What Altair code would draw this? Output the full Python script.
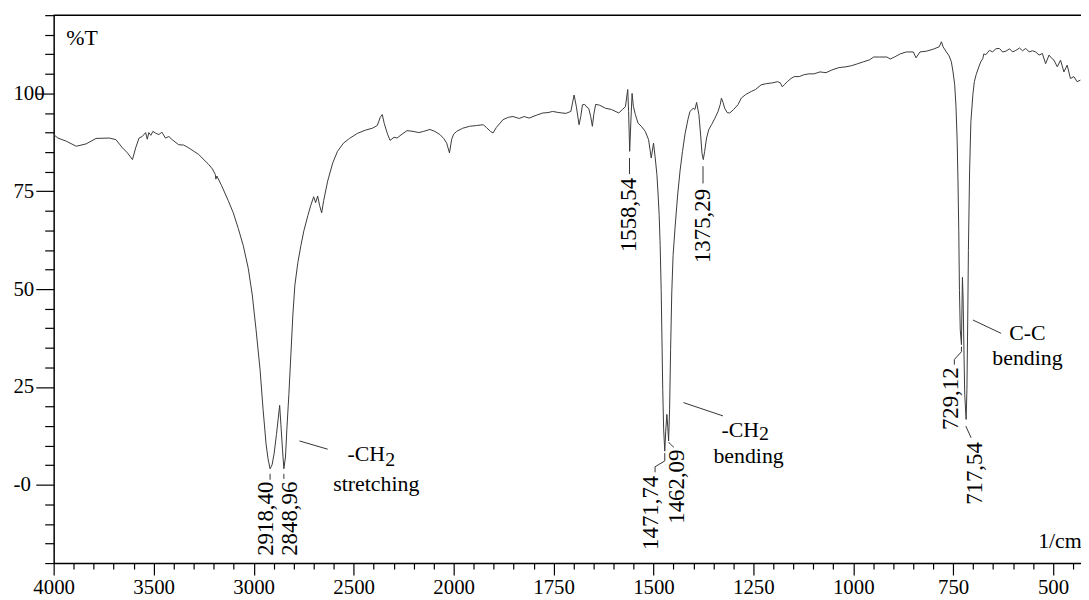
import altair as alt
import pandas as pd

# ---- spectrum (wavenumber 1/cm, %T) ----
WN = [4000, 3979, 3937, 3887, 3838, 3788, 3722, 3689, 3656, 3631, 3606, 3590, 3573, 3557,
      3540, 3532, 3524, 3514, 3504, 3489, 3474, 3459, 3441, 3424, 3408, 3375, 3350, 3325,
      3275, 3226, 3206, 3192, 3189, 3184, 3160, 3127, 3102, 3077, 3052, 3027, 3007, 2988,
      2968, 2953, 2938, 2928, 2918, 2908, 2898, 2886, 2870, 2864, 2856, 2849, 2841, 2834,
      2824, 2814, 2804, 2794, 2779, 2764, 2749, 2729, 2715, 2700, 2690, 2680, 2670, 2660,
      2650, 2630, 2605, 2581, 2551, 2521, 2481, 2442, 2407, 2382, 2367, 2357, 2347, 2332,
      2318, 2298, 2283, 2258, 2233, 2203, 2174, 2150, 2119, 2094, 2069, 2050, 2035, 2021,
      2010, 2000,
      1992.5, 1977.6, 1960.2, 1942.9, 1926.2, 1918.0, 1908.1, 1901.4, 1893.2, 1876.5,
      1863.3, 1851.7, 1836.0, 1823.6, 1811.2, 1793.8, 1777.1, 1763.9, 1752.3, 1736.6,
      1719.2, 1706.8, 1698.6, 1693.1, 1686.2, 1681.9, 1677.7, 1672.0, 1667.0, 1662.1,
      1657.1, 1652.9, 1648.9, 1644.7, 1634.8, 1619.8, 1605.0, 1586.8, 1577.6, 1570.2,
      1564.4, 1562.2, 1559.5, 1556.5, 1553.5, 1550.3, 1545.3, 1538.6, 1530.4, 1520.5,
      1512.3, 1505.6, 1499.8, 1495.6, 1491.4, 1488.2, 1485.7, 1483.2, 1480.7, 1478.7,
      1476.8, 1474.5, 1471.7, 1469.3, 1466.5, 1464.1, 1462.1, 1459.6, 1457.1, 1454.2,
      1450.9, 1445.9, 1439.7, 1433.5, 1427.3, 1421.1, 1413.6, 1408.7, 1400.5, 1396.2,
      1392.0, 1388.8, 1386.3, 1381.3, 1378.6, 1375.3, 1371.9, 1367.1, 1361.4, 1354.7,
      1346.5, 1338.3, 1332.8, 1329.9, 1325.9, 1321.7, 1315.5, 1309.2, 1299.3, 1288.6,
      1280.2, 1269.5, 1255.3, 1244.7, 1230.5, 1217.3, 1202.4, 1189.3, 1182.5, 1177.6,
      1172.6, 1165.2, 1156.0, 1147.8, 1135.3, 1122.9, 1110.5, 1098.1, 1083.2, 1068.2,
      1053.3, 1035.9, 1018.5, 1003.6, 988.7, 973.8, 958.9, 948.9, 934.0, 915.9,
      907.5, 896.8, 882.6, 867.0, 849.6, 842.9, 832.9, 816.5, 799.9, 785.0,
      779.3, 775.1, 766.9, 760.2, 754.5, 750.3, 746.1, 742.9, 739.9, 737.9,
      735.9, 734.2, 732.2, 729.2, 728.0, 726.7, 725.0, 723.0, 721.0, 717.5,
      715.5, 713.5, 711.8, 708.8, 705.6, 700.6, 696.9, 692.4, 685.7, 680.7,
      675.8, 673.3, 668.3, 659.2, 651.0, 643.5, 634.3, 626.1, 617.9, 608.7,
      601.2, 593.0, 583.8, 576.4, 568.2, 559.7, 551.5, 543.3, 534.9, 526.7,
      518.5, 510.0, 504.3, 497.6, 489.4, 481.2, 472.8, 464.6, 456.4, 447.9,
      439.7, 431.5]
TR = [89.5, 88.6, 87.8, 86.5, 87.1, 88.5, 88.6, 88.2, 86.1, 84.8, 83.1, 86.1, 88.6, 89.0,
      90.0, 88.3, 90.0, 89.3, 90.3, 89.8, 89.5, 90.1, 88.6, 89.0, 88.2, 86.9, 86.8, 86.1,
      84.4, 81.9, 80.7, 79.3, 78.1, 78.9, 76.4, 72.6, 69.5, 65.5, 61.1, 55.3, 48.5, 39.6,
      29.4, 19.3, 10.4, 6.6, 4.1, 5.1, 7.9, 12.9, 20.3, 15.5, 9.1, 4.1, 7.1, 14.2,
      23.1, 33.2, 43.4, 51.0, 56.8, 61.1, 64.9, 68.8, 71.3, 73.6, 72.1, 73.8, 71.3, 69.5,
      72.6, 77.6, 82.2, 85.2, 87.3, 88.5, 89.8, 90.6, 91.1, 91.8, 93.9, 94.6, 92.3, 89.8,
      88.0, 88.8, 88.6, 89.6, 90.5, 90.3, 90.0, 90.3, 90.8, 90.3, 89.5, 88.5, 87.3, 84.8,
      88.3, 89.6,
      90.3, 91.1, 91.6, 91.8, 92.0, 91.3, 90.3, 89.9, 91.3, 93.3,
      93.9, 94.1, 93.6, 94.1, 93.7, 94.4, 95.0, 95.1, 95.4, 95.1,
      94.9, 95.4, 99.6, 96.7, 92.0, 94.1, 97.1, 97.2, 96.5, 96.2,
      94.1, 91.6, 94.9, 97.2, 97.0, 96.2, 95.9, 95.0, 95.9, 96.6,
      101.0, 95.4, 85.2, 92.9, 100.0, 96.7, 94.6, 92.4, 91.6, 90.3,
      88.2, 83.5, 87.3, 83.5, 79.3, 73.8, 68.8, 61.1, 49.7, 37.0,
      24.4, 14.2, 8.6, 13.7, 18.0, 14.7, 11.2, 19.3, 34.5, 49.0,
      58.6, 65.8, 73.8, 80.2, 85.2, 89.6, 93.4, 95.4, 96.2, 95.9,
      97.7, 95.9, 94.6, 88.6, 84.7, 83.1, 85.2, 88.6, 90.8, 92.0,
      93.6, 95.4, 97.2, 98.8, 97.7, 96.2, 95.1, 95.0, 95.9, 97.1,
      98.8, 99.7, 100.5, 101.0, 102.2, 102.5, 102.7, 103.0, 102.7, 101.7,
      102.2, 103.0, 103.8, 104.3, 104.3, 104.8, 105.0, 105.0, 105.5, 105.3,
      106.0, 106.6, 106.8, 107.1, 107.6, 108.1, 108.6, 109.3, 109.3, 109.3,
      108.8, 109.3, 110.1, 110.6, 110.6, 109.1, 110.6, 110.8, 111.3, 111.9,
      113.2, 111.9, 110.6, 109.6, 108.1, 105.5, 102.2, 96.7, 87.8, 77.6,
      64.9, 49.7, 39.6, 35.8, 44.7, 53.0, 47.2, 34.5, 23.1, 16.7,
      24.4, 42.1, 59.9, 80.2, 92.8, 99.7, 103.0, 104.8, 106.8, 108.1,
      108.9, 110.1, 109.9, 111.0, 110.6, 111.4, 111.5, 110.6, 110.8, 111.4,
      110.6, 111.0, 111.6, 110.9, 111.5, 110.6, 110.9, 110.6, 109.8, 110.2,
      107.6, 109.8, 109.1, 108.5, 106.8, 108.5, 105.5, 107.2, 103.8, 104.3,
      103.0, 103.4]

# ---- peak labels ----
PEAK_TEXT = ["2918,40", "2848,96", "1558,54", "1375,29", "1471,74", "1462,09", "729,12", "717,54"]
PEAK_WN = [2940, 2816, 1560, 1376, 1507, 1442, 756, 696]
PEAK_TOP = [0.8, 0.8, 78.4, 75.6, 2.3, 9.0, 30.0, 10.9]

# ---- leader lines (segment id, wavenumber, %T) ----
LEAD_ID = [0, 0, 1, 1, 2, 2, 3, 3, 4, 4, 4, 4, 5, 5, 5, 6, 6, 6, 6, 7, 7, 8, 8, 9, 9, 10, 10]
LEAD_WN = [2918, 2918, 2849, 2849, 1560, 1560, 1376, 1376,
           1471.7, 1471.7, 1496, 1496, 1462.1, 1458, 1449,
           729.2, 729.2, 747, 747, 718.3, 705, 2771, 2630, 1425, 1326, 700.5, 630]
LEAD_T = [2.8, 1.3, 2.8, 1.5, 83.5, 79.4, 81.4, 77.0,
          8.1, 6.1, 4.6, 3.2, 10.9, 10.4, 9.6,
          35.3, 34.0, 32.0, 30.7, 15.0, 12.0, 11.2, 9.1, 21.0, 17.6, 42.1, 38.7]

# ---- other annotations ----
LEFT_TEXT = ["%T", "-CH", "-CH"]
LEFT_WN = [3937, 2531, 1330]
LEFT_T = [114.2, 7.8, 13.9]
SUB_TEXT = ["2", "2"]
SUB_WN = [2342, 1236]
SUB_T = [6.2, 12.9]
CENTER_TEXT = ["stretching", "bending", "C-C", "bending"]
CENTER_WN = [2387, 1262, 564, 564]
CENTER_T = [0.3, 7.4, 38.7, 32.3]
UNIT_TEXT = ["1/cm"]
UNIT_WN = [428]
UNIT_T = [-14.5]

X_TICKS = list(range(4000, 1999, -100)) + list(range(1950, 449, -50))
Y_TICKS = list(range(-20, 121, 5))

FONT = "Liberation Serif"
W, H = 1035, 552

xscale = alt.Scale(domain=[4000, 2000, 430], range=[0, 403, W], nice=False)
yscale = alt.Scale(domain=[-20, 120], nice=False, zero=False)

x_major = "(datum.value >= 2000 ? datum.value % 500 === 0 : datum.value % 250 === 0)"
y_major = "(datum.value % 25 === 0)"

xaxis = alt.Axis(
    values=X_TICKS, tickCount=1000, title=None, grid=False,
    labelExpr=f"{x_major} ? datum.value + '' : ''",
    tickSize={"condition": {"test": x_major, "value": 12}, "value": 6},
    labelFont=FONT, labelFontSize=21, labelColor="black", labelPadding=2,
    labelOverlap=False, labelFlush=False, labelBound=False,
    domainColor="black", domainWidth=1.5, tickColor="black", tickWidth=1.2,
)
yaxis = alt.Axis(
    values=Y_TICKS, tickCount=1000, title=None, grid=False,
    labelExpr="datum.value === 0 ? '-0' : (" + y_major + " ? datum.value + '' : '')",
    tickSize={"condition": {"test": y_major, "value": 18}, "value": 9},
    labelFont=FONT, labelFontSize=21, labelColor="black",
    labelAlign="left", labelBaseline="middle", labelPadding=23,
    labelOverlap=False, labelFlush=False, labelBound=False,
    domainColor="black", domainWidth=1.5, tickColor="black", tickWidth=1.2,
)

spec = pd.DataFrame({"wn": WN, "T": TR, "i": range(len(WN))})
line = alt.Chart(spec).mark_line(color="#3a3a3a", strokeWidth=1, clip=True).encode(
    x=alt.X("wn:Q", scale=xscale, axis=xaxis),
    y=alt.Y("T:Q", scale=yscale, axis=yaxis),
    order="i:Q",
)

top = alt.Chart(pd.DataFrame({"a": [0]})).mark_rule(color="black", strokeWidth=1.5).encode(
    x=alt.value(0), x2=alt.value(W), y=alt.value(0)
)

lead = pd.DataFrame({"seg": LEAD_ID, "wn": LEAD_WN, "T": LEAD_T, "i": range(len(LEAD_ID))})
leaders = alt.Chart(lead).mark_line(color="#333333", strokeWidth=1).encode(
    x=alt.X("wn:Q", scale=xscale), y=alt.Y("T:Q", scale=yscale),
    detail="seg:N", order="i:Q",
)


def text_layer(texts, wns, ts, size, **kw):
    df = pd.DataFrame({"txt": texts, "wn": wns, "T": ts})
    return alt.Chart(df).mark_text(
        baseline="middle", font=FONT, fontSize=size, color="black", **kw
    ).encode(x=alt.X("wn:Q", scale=xscale), y=alt.Y("T:Q", scale=yscale), text="txt:N")


peak_txt = text_layer(PEAK_TEXT, PEAK_WN, PEAK_TOP, 23, angle=270, align="right")
left_txt = text_layer(LEFT_TEXT, LEFT_WN, LEFT_T, 22, align="left")
sub_txt = text_layer(SUB_TEXT, SUB_WN, SUB_T, 20, align="left")
center_txt = text_layer(CENTER_TEXT, CENTER_WN, CENTER_T, 22, align="center")
unit_txt = text_layer(UNIT_TEXT, UNIT_WN, UNIT_T, 22, align="right")

chart = alt.layer(line, top, leaders, peak_txt, left_txt, sub_txt, center_txt, unit_txt).properties(
    width=W, height=H,
    autosize=alt.AutoSizeParams(type="none"),
    padding={"left": 46, "top": 5, "right": 0, "bottom": 35},
    background="white",
).configure_view(stroke=None)

chart.save("out.html", embed_options={"renderer": "svg", "actions": False})
